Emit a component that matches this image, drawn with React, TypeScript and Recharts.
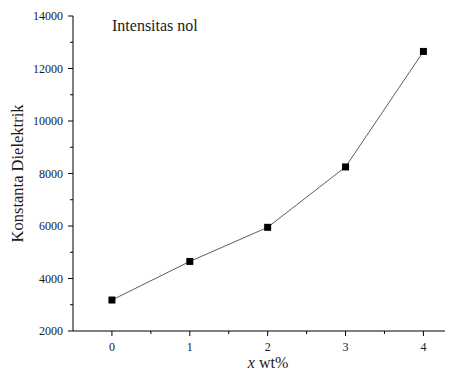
import React from "react";
import { LineChart, Line, XAxis, YAxis, Label } from "recharts";

const xValues = [0, 1, 2, 3, 4];
const dielectricValues = [3180, 4650, 5950, 8250, 12650];
const xTicks = [0, 0.5, 1, 1.5, 2, 2.5, 3, 3.5, 4];
const yTicks = [2000, 3000, 4000, 5000, 6000, 7000, 8000, 9000, 10000, 11000, 12000, 13000, 14000];
const yLabels = [2000, 4000, 6000, 8000, 10000, 12000, 14000];
const xLabels = [0, 1, 2, 3, 4];

const data = xValues.map((x, i) => ({ x, k: dielectricValues[i] }));

const FONT = "'Liberation Serif', 'Times New Roman', serif";
const textStyle = { fontFamily: FONT, fill: "#1a1a1a" };

const XTick = (props: any) => {
  const { x, y, payload } = props;
  const major = xLabels.includes(payload.value);
  return (
    <g>
      <line x1={x} x2={x} y1={y} y2={y + (major ? 5 : 3)} stroke="#000" strokeWidth={1} />
      {major && (
        <text x={x} y={y + 20} textAnchor="middle" style={{ ...textStyle, fontSize: 12 }}>
          {payload.value}
        </text>
      )}
    </g>
  );
};

const YTick = (props: any) => {
  const { x, y, payload } = props;
  const major = yLabels.includes(payload.value);
  return (
    <g>
      <line x1={x} x2={x - (major ? 5 : 3)} y1={y} y2={y} stroke="#000" strokeWidth={1} />
      {major && (
        <text x={x - 10} y={y + 4} textAnchor="end" style={{ ...textStyle, fontSize: 12 }}>
          {payload.value}
        </text>
      )}
    </g>
  );
};

const SquareDot = (props: any) => {
  const { cx, cy } = props;
  if (cx == null || cy == null) return null;
  return <rect x={cx - 3.5} y={cy - 3.5} width={7} height={7} fill="#000" />;
};

const XLabel = (props: any) => {
  const { viewBox } = props;
  const cx = viewBox.x + viewBox.width / 2 + 5;
  return (
    <text x={cx} y={viewBox.y + 37} textAnchor="middle" style={{ ...textStyle, fontSize: 16 }}>
      <tspan fontStyle="italic">x</tspan>
      <tspan> wt%</tspan>
    </text>
  );
};

const YLabel = (props: any) => {
  const { viewBox } = props;
  const cy = viewBox.y + viewBox.height / 2;
  const cx = 15;
  return (
    <text
      x={cx}
      y={cy}
      transform={`rotate(-90, ${cx}, ${cy})`}
      textAnchor="middle"
      style={{ ...textStyle, fontSize: 16.5 }}
    >
      Konstanta Dielektrik
    </text>
  );
};

export default function App() {
  return (
    <div style={{ position: "relative", width: 445, height: 363 }}>
      <LineChart
        width={445}
        height={363}
        data={data}
        margin={{ top: 8, right: 0, bottom: 10, left: 5 }}
      >
        <XAxis
          dataKey="x"
          type="number"
          domain={[-0.5, 4.38]}
          allowDataOverflow
          ticks={xTicks}
          interval={0}
          tick={<XTick />}
          tickLine={false}
          tickSize={0}
          tickMargin={0}
          height={30}
          axisLine={{ stroke: "#000", strokeWidth: 1 }}
        >
          <Label content={<XLabel />} />
        </XAxis>
        <YAxis
          type="number"
          domain={[2000, 14000]}
          allowDataOverflow
          ticks={yTicks}
          interval={0}
          tick={<YTick />}
          tickLine={false}
          tickSize={0}
          tickMargin={0}
          width={60}
          axisLine={{ stroke: "#000", strokeWidth: 1 }}
        >
          <Label content={<YLabel />} />
        </YAxis>
        <Line
          dataKey="k"
          stroke="#333"
          strokeWidth={0.8}
          dot={<SquareDot />}
          activeDot={false}
          isAnimationActive={false}
        />
      </LineChart>
      <div
        style={{
          position: "absolute",
          left: 104,
          top: 9,
          fontFamily: FONT,
          fontSize: 16,
          color: "#1a1a1a",
          whiteSpace: "nowrap",
        }}
      >
        Intensitas nol
      </div>
    </div>
  );
}
